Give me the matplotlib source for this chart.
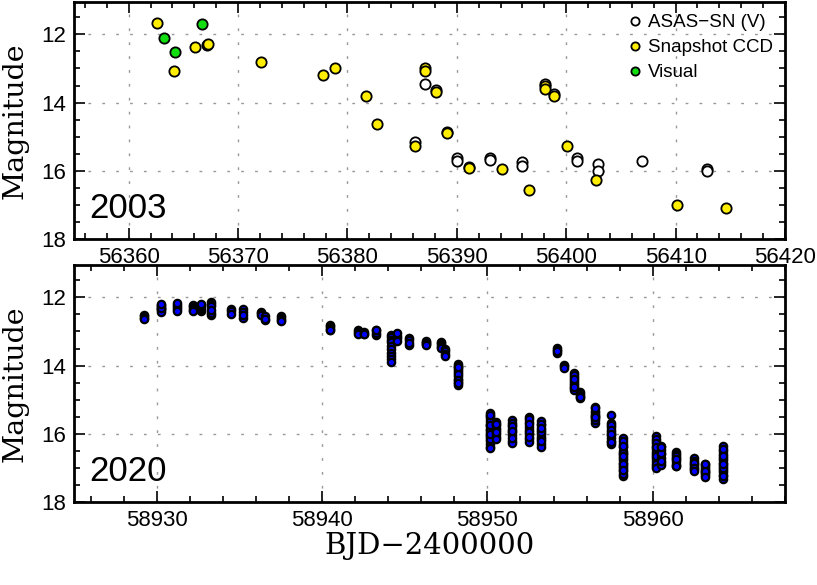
import matplotlib
matplotlib.use("Agg")
import matplotlib.pyplot as plt
from matplotlib.ticker import MultipleLocator

# ---- 2003 outburst (top panel) ----
asas_t = [56386.15, 56387.05, 56388.10, 56389.07, 56390.00, 56390.00, 56393.00, 56393.00,
          56396.00, 56396.00, 56398.07, 56398.90, 56401.00, 56401.00, 56402.95, 56402.95,
          56406.93, 56412.90, 56412.90]
asas_m = [15.15, 13.46, 13.62, 14.85, 15.63, 15.71, 15.63, 15.68,
          15.73, 15.85, 13.46, 13.75, 15.63, 15.71, 15.80, 16.02,
          15.70, 15.95, 16.02]

snap_t = [56362.55, 56364.13, 56366.08, 56367.20, 56367.25, 56372.14, 56377.80, 56378.90,
          56381.70, 56382.70, 56386.15, 56387.10, 56387.10, 56388.10, 56389.07, 56391.10,
          56391.10, 56394.15, 56396.60, 56398.07, 56398.07, 56398.90, 56400.05, 56402.70,
          56410.10, 56414.57]
snap_m = [11.67, 13.08, 12.36, 12.30, 12.27, 12.82, 13.18, 12.98,
          13.80, 14.64, 15.26, 12.98, 13.07, 13.70, 14.90, 15.88,
          15.92, 15.94, 16.55, 13.52, 13.60, 13.81, 15.27, 16.28,
          17.00, 17.10]

vis_t = [56363.19, 56364.22, 56366.69]
vis_m = [12.12, 12.51, 11.71]

# ---- 2020 outburst (bottom panel): one entry per night / run ----
run_t = [58929.23, 58930.24, 58931.20, 58932.19, 58932.66, 58933.28, 58934.49, 58935.20,
         58936.30, 58936.55, 58937.50, 58940.50, 58942.19, 58942.55, 58943.28, 58944.20,
         58944.55, 58945.27, 58946.30, 58947.19, 58947.45, 58948.24, 58950.18, 58950.54,
         58951.50, 58952.50, 58953.27, 58954.24, 58954.64, 58955.24, 58955.63, 58956.52,
         58957.48, 58958.20, 58960.17, 58960.51, 58961.42, 58962.47, 58963.19, 58964.23]
run_m = [
    [12.52, 12.55, 12.59, 12.62],
    [12.21, 12.25, 12.30, 12.34, 12.38, 12.42, 12.31, 12.18],
    [12.22, 12.28, 12.34, 12.40, 12.17],
    [12.21, 12.26, 12.31, 12.36, 12.41],
    [12.40, 12.34, 12.28, 12.22, 12.18],
    [12.14, 12.19, 12.26, 12.52, 12.46, 12.38],
    [12.33, 12.41, 12.49],
    [12.33, 12.42, 12.60, 12.53],
    [12.42, 12.47, 12.52],
    [12.55, 12.66, 12.62],
    [12.54, 12.60, 12.66, 12.69],
    [12.80, 12.85, 12.90, 12.95, 12.97],
    [12.95, 13.02, 13.06],
    [13.02, 13.06, 13.08],
    [13.09, 13.03, 12.97, 12.95],
    [13.09, 13.16, 13.24, 13.32, 13.42, 13.52, 13.62, 13.72, 13.80, 13.88],
    [13.12, 13.20, 13.04, 13.29],
    [13.20, 13.26, 13.40, 13.34],
    [13.27, 13.30, 13.33, 13.37, 13.40],
    [13.30, 13.35, 13.40, 13.45, 13.48],
    [13.52, 13.58, 13.65, 13.72],
    [13.95, 14.12, 14.30, 14.48, 14.00, 14.20, 14.38, 14.56, 14.08, 14.25, 14.43, 14.03, 14.50],
    [15.40, 15.85, 16.10, 15.55, 16.38, 15.70, 15.95, 16.20, 15.48, 16.05, 15.78, 16.30,
     15.62, 15.90, 16.15, 15.45, 15.75, 16.00, 16.41],
    [15.65, 15.90, 16.10, 15.75, 16.00, 15.82, 16.14, 15.70, 15.95],
    [15.60, 15.95, 16.20, 15.75, 16.05, 15.68, 16.28, 15.85, 16.12, 15.78, 15.92],
    [15.52, 15.90, 16.15, 15.65, 16.00, 15.80, 16.25, 15.58, 15.95, 16.08, 15.72],
    [15.62, 16.00, 16.30, 15.75, 16.15, 15.88, 16.40, 15.70, 16.08, 16.22, 15.95, 15.82],
    [13.49, 13.53, 13.62, 13.58],
    [13.97, 14.02, 14.07],
    [14.21, 14.34, 14.45, 14.28, 14.56, 14.66, 14.50, 14.72, 14.40, 14.62],
    [14.77, 14.83, 14.88, 14.94, 14.92],
    [15.40, 15.55, 15.67, 15.32, 15.48, 15.60, 15.44, 15.52, 15.20, 15.25],
    [15.68, 15.95, 16.20, 15.80, 16.05, 16.30, 15.75, 16.12, 15.88, 16.00, 16.25, 15.44],
    [16.12, 16.50, 16.85, 17.10, 16.30, 16.70, 17.00, 16.22, 16.60, 16.95, 17.25, 16.40,
     16.78, 17.18, 16.55, 16.90, 16.35, 17.05, 16.65],
    [16.07, 16.45, 16.80, 16.20, 16.60, 16.95, 16.35, 16.72, 16.15, 16.52, 16.88, 16.28,
     16.65, 17.00, 16.40],
    [16.35, 16.60, 16.85, 16.48, 16.72, 16.92, 16.55, 16.40, 16.80],
    [16.52, 16.70, 16.88, 16.60, 16.80, 16.95, 16.65, 16.75, 16.94],
    [16.72, 16.88, 17.02, 16.80, 16.95, 16.85, 17.00, 17.08],
    [17.05, 17.20, 16.95, 17.12, 17.00, 17.15, 16.90, 17.08, 17.27, 16.88],
    [16.36, 16.70, 17.05, 16.50, 16.85, 17.20, 16.60, 16.95, 17.33, 16.45, 16.78, 17.12,
     16.65, 17.00, 16.90, 17.25],
]

SANS = "Liberation Sans"
SERIF = "DejaVu Serif"
plt.rcParams["font.family"] = [SANS, "DejaVu Sans"]


def style_axes(ax, xlim, xmajor):
    ax.set_xlim(*xlim)
    ax.set_ylim(18, 11.05)
    ax.xaxis.set_major_locator(MultipleLocator(xmajor))
    ax.xaxis.set_minor_locator(MultipleLocator(2))
    ax.yaxis.set_major_locator(MultipleLocator(2))
    ax.yaxis.set_minor_locator(MultipleLocator(0.5))
    ax.tick_params(which="both", direction="in", top=True, right=True,
                   labelsize=16, width=1.2, pad=6)
    ax.tick_params(which="major", length=8)
    ax.tick_params(which="minor", length=4.5)
    for sp in ax.spines.values():
        sp.set_linewidth(2.0)
    ax.grid(True, which="major", color="#999999", linestyle=(0, (2, 8)), linewidth=1.0)
    ax.set_axisbelow(True)
    ax.set_ylabel("Magnitude", family=SERIF, fontsize=20.5)
    ax.yaxis.set_label_coords(-0.064, 0.5)


fig = plt.figure(figsize=(8.17, 5.85), dpi=100)
ax1 = fig.add_axes([0.0906, 0.5915, 0.8702, 0.4051])
ax2 = fig.add_axes([0.0906, 0.1419, 0.8702, 0.4051])

# top panel
ax1.plot(asas_t, asas_m, "o", ms=7.4, mfc="white", mec="black", mew=1.3,
         label="ASAS\u2212SN (V)")
ax1.plot(snap_t, snap_m, "o", ms=7.4, mfc="#ffee00", mec="black", mew=1.3,
         label="Snapshot CCD")
ax1.plot(vis_t, vis_m, "o", ms=7.4, mfc="#11dd11", mec="black", mew=1.3,
         label="Visual")
style_axes(ax1, (56355, 56420), 10)
ax1.text(0.022, 0.09, "2003", transform=ax1.transAxes, fontsize=25)
ax1.legend(loc="upper right", bbox_to_anchor=(1.0, 1.0), frameon=False, fontsize=13.5,
           markerscale=0.8, handlelength=1.0, handletextpad=0.2, labelspacing=0.42,
           borderpad=0.35, borderaxespad=0.3)

# bottom panel
pts_t, pts_m = [], []
for t, mags in zip(run_t, run_m):
    pts_t.extend([t] * len(mags))
    pts_m.extend(mags)
ax2.plot(pts_t, pts_m, "o", ms=5.3, mfc="#0000ff", mec="black", mew=1.6)
style_axes(ax2, (58925, 58968), 10)
ax2.text(0.022, 0.09, "2020", transform=ax2.transAxes, fontsize=25)
ax2.set_xlabel("BJD\u22122400000", family=SERIF, fontsize=21)
ax2.xaxis.set_label_coords(0.5, -0.125)

fig.savefig("out.png", dpi=100)
